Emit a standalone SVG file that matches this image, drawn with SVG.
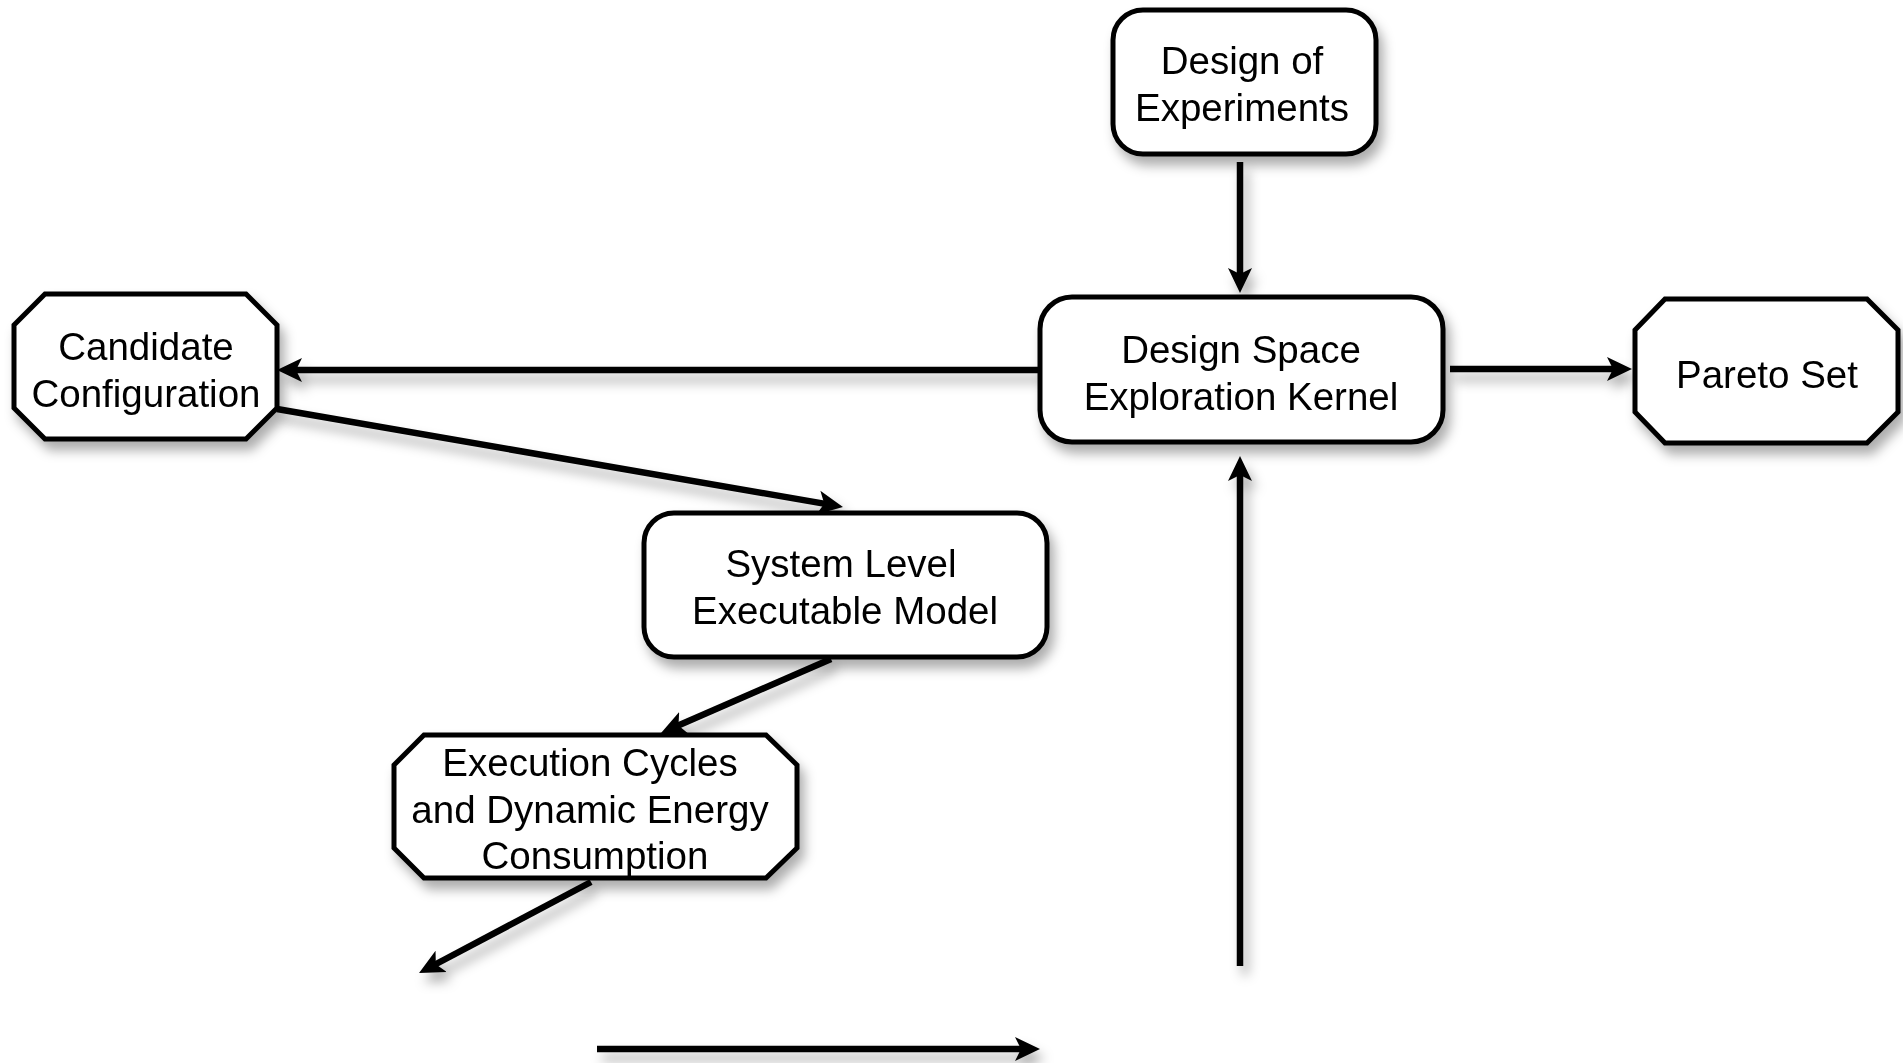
<svg xmlns="http://www.w3.org/2000/svg" width="1903" height="1063" viewBox="0 0 1903 1063">
  <defs>
    <filter id="shadow" x="-20%" y="-20%" width="140%" height="150%">
      <feDropShadow dx="5" dy="9" stdDeviation="6" flood-color="#000" flood-opacity="0.32"/>
    </filter>
    <marker id="arrow" markerUnits="userSpaceOnUse" markerWidth="30" markerHeight="30" viewBox="0 -15 30 30" refX="10" refY="0" orient="auto">
      <path d="M0,-12 L25,0 L0,12 L6,0 Z" fill="#000"/>
    </marker>
    <style>
      .box { fill: #fff; stroke: #000; stroke-width: 5; stroke-linejoin: round; }
      .oct { fill: #fff; stroke: #000; stroke-width: 5; stroke-linejoin: miter; }
      .lbl { font-family: "Liberation Sans", sans-serif; font-size: 38.5px; fill: #000; text-anchor: middle; }
      .edge { fill: none; stroke: #000; stroke-width: 6.5; marker-end: url(#arrow); }
    </style>
  </defs>
  <rect width="1903" height="1063" fill="#fff"/>

  <!-- connectors -->
  <g id="connectors" filter="url(#shadow)">
    <line class="edge" x1="1240" y1="162" x2="1240" y2="278"/>
    <line class="edge" x1="1040" y1="370" x2="292" y2="370"/>
    <line class="edge" x1="1450" y1="369" x2="1617" y2="369"/>
    <line class="edge" x1="277" y1="409" x2="828.2" y2="504.4"/>
    <line class="edge" x1="831" y1="659" x2="674.8" y2="727"/>
    <line class="edge" x1="591" y1="882" x2="432.3" y2="966"/>
    <line class="edge" x1="1240" y1="966" x2="1240" y2="471"/>
    <line class="edge" x1="597" y1="1049" x2="1025" y2="1049"/>
  </g>

  <!-- nodes -->
  <g id="design-of-experiments" filter="url(#shadow)">
    <rect class="box" x="1113" y="10" width="263" height="144" rx="30" ry="30"/>
    <text class="lbl" x="1242" y="74">Design of</text>
    <text class="lbl" x="1242" y="121">Experiments</text>
  </g>

  <g id="candidate-configuration" filter="url(#shadow)">
    <polygon class="oct" points="45,294 246,294 277,325 277,408 246,439 45,439 14,408 14,325"/>
    <text class="lbl" x="146" y="360">Candidate</text>
    <text class="lbl" x="146" y="407">Configuration</text>
  </g>

  <g id="dse-kernel" filter="url(#shadow)">
    <rect class="box" x="1040" y="297" width="403" height="145" rx="32" ry="32"/>
    <text class="lbl" x="1241" y="363">Design Space</text>
    <text class="lbl" x="1241" y="410">Exploration Kernel</text>
  </g>

  <g id="pareto-set" filter="url(#shadow)">
    <polygon class="oct" points="1665,299 1867,299 1898,330 1898,412 1867,443 1665,443 1635,412 1635,330"/>
    <text class="lbl" x="1767" y="388">Pareto Set</text>
  </g>

  <g id="system-level-model" filter="url(#shadow)">
    <rect class="box" x="644" y="513" width="403" height="144" rx="30" ry="30"/>
    <text class="lbl" x="841" y="577">System Level</text>
    <text class="lbl" x="845" y="624">Executable Model</text>
  </g>

  <g id="execution-cycles" filter="url(#shadow)">
    <polygon class="oct" points="424,735 766,735 797,765 797,848 766,878 424,878 394,848 394,765"/>
    <text class="lbl" x="590" y="776">Execution Cycles</text>
    <text class="lbl" x="590" y="823">and Dynamic Energy</text>
    <text class="lbl" x="595" y="869">Consumption</text>
  </g>
</svg>
